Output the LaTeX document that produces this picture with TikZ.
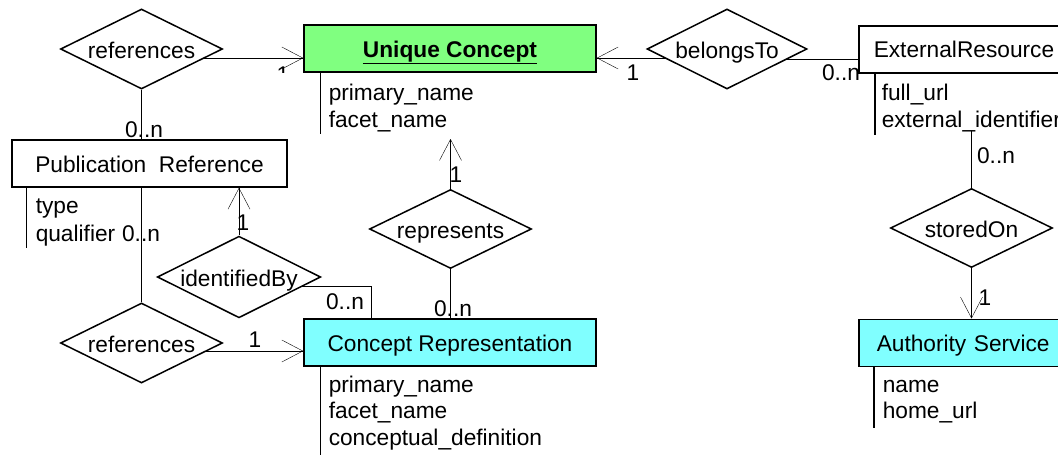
\documentclass[tikz,border=0pt]{standalone}
\usepackage{fontspec}
\setmainfont{Liberation Sans}
\usetikzlibrary{shapes.geometric,arrows.meta,backgrounds}
\definecolor{ucgreen}{RGB}{128,255,128}
\definecolor{repcyan}{RGB}{128,255,255}
\begin{document}
\begin{tikzpicture}[x=1pt,y=-1pt,
  every node/.style={font=\fontsize{22.7}{27}\selectfont, inner sep=0pt},
  line width=1.5pt,
  entity/.style={draw, rectangle, minimum width=292pt, minimum height=47pt,
                 text height=20pt, text depth=3pt, inner sep=0pt},
  relation/.style={draw, diamond, aspect=2, fill=white, minimum width=162pt,
                   minimum height=80pt, text height=21pt, text depth=2pt},
  attr/.style={anchor=base west},
  card/.style={anchor=base},
  arr/.style={-{Straight Barb[length=21pt,width=22pt]}},
]
\useasboundingbox (0,0) rectangle (1058,455);
\clip (0,0) rectangle (1058,455);

% entities
\node[entity, fill=ucgreen] (uc) at (450,48.5) {\underline{\textbf{Unique Concept}}};
\node[entity, fill=white, minimum width=275pt] (pr) at (149.5,163.5) {Publication\ \ Reference};
\node[entity, fill=repcyan] (cr) at (450,342.5) {Concept Representation};
\node[entity, fill=white, anchor=north west, align=left, text width=262pt, inner xsep=15pt]
  (er) at (858,25) {ExternalResource};
\node[entity, fill=repcyan, anchor=north west, align=left, text width=256pt, inner xsep=18pt]
  (as) at (858,318.5) {Authority Service};

% relationships
\node[relation] (ref1) at (141.5,49) {references};
\node[relation] (ref2) at (141.5,343) {references};
\node[relation, minimum width=160pt, minimum height=79pt] (idb) at (239,277) {identifiedBy};
\node[relation, minimum height=79pt] (rep) at (450.5,229) {represents};
\node[relation, minimum width=160pt] (bt) at (727,49) {belongsTo};
\node[relation, minimum height=79pt] (so) at (971.5,228) {storedOn};

% attribute lists
\draw ([xshift=17pt]uc.south west) -- ++(0,61);
\node[attr] (uc-a1) at (328,100) {primary\_name};
\node[attr] (uc-a2) at (328,127) {facet\_name};

\draw ([xshift=15pt]pr.south west) -- ++(0,60);
\node[attr] (pr-a1) at (35,213) {type};
\node[attr] (pr-a2) at (35,241) {qualifier};

\draw ([xshift=17pt]er.south west) -- ++(0,61);
\node[attr] (er-a1) at (881,100) {full\_url};
\node[attr] (er-a2) at (881,127) {external\_identifier};

\draw ([xshift=17pt]cr.south west) -- ++(0,92);
\node[attr] (cr-a1) at (328,392) {primary\_name};
\node[attr] (cr-a2) at (328,418) {facet\_name};
\node[attr] (cr-a3) at (328,445) {conceptual\_definition};

\draw ([xshift=16pt]as.south west) -- ++(0,61);
\node[attr] (as-a1) at (882,392) {name};
\node[attr] (as-a2) at (882,418) {home\_url};

% connection points
\coordinate (ucW) at ([yshift=-9.5pt]uc.west);
\coordinate (ucE) at ([yshift=-9.5pt]uc.east);
\coordinate (erW) at ([yshift=-9.5pt]er.west);
\coordinate (crW) at ([yshift=-8.5pt]cr.west);
\coordinate (idbR) at ([yshift=-9pt]idb.center);
\coordinate (ucAttr) at (450.5,139);
\coordinate (erAttr) at (971.5,131);

% connectors, kept behind the diamonds
\begin{pgfonlayer}{background}
\draw[arr] (ref1.center |- ucW) -- (ucW);
\draw[arr] (bt.center |- ucE) -- (ucE);
\draw (bt.center |- erW) -- (erW);
\draw (ref1.south) -- (ref1.south |- pr.north);
\draw (ref2.north) -- (ref2.north |- pr.south);
\draw[arr] (ref2.center |- crW) -- (crW);
\draw[arr] (idb.north) -- (idb.north |- pr.south);
\draw (idbR) -| ([xshift=-79pt]cr.north);
\draw[arr] (rep.north) -- (ucAttr);
\draw (rep.south) -- (rep.south |- cr.north);
\draw (so.north) -- (erAttr);
\draw[arr] (so.south) -- (so.south |- as.north);
\end{pgfonlayer}

% cardinalities
\begin{scope}
  \clip (270,60) rectangle (295,72);
  \node[card] (c1) at (283,82) {1};
\end{scope}
\node[card] (c2) at (144,137) {0..n};
\node[card] (c3) at (633,80) {1};
\node[card] (c4) at (841,80) {0..n};
\node[card] (c5) at (996,163) {0..n};
\node[card] (c6) at (985,305) {1};
\node[card] (c7) at (456,182) {1};
\node[card] (c8) at (453,316) {0..n};
\node[card] (c9) at (345,309) {0..n};
\node[card] (c10) at (243,230) {1};
\node[card] (c11) at (141,241) {0..n};
\node[card] (c12) at (255,347) {1};
\end{tikzpicture}
\end{document}
